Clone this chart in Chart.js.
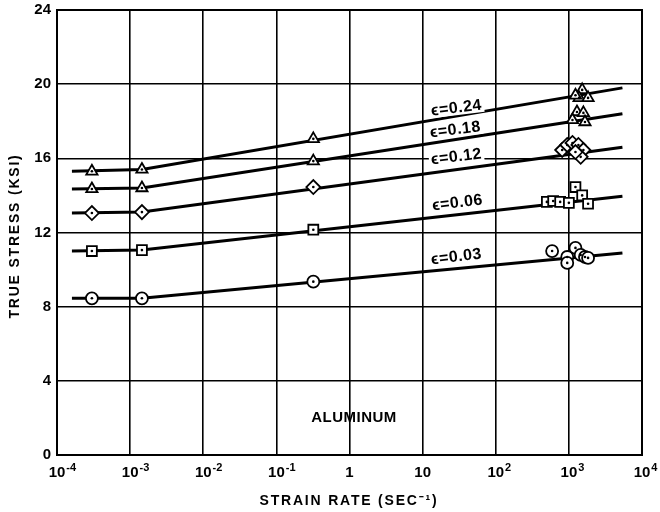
<!DOCTYPE html>
<html>
<head>
<meta charset="utf-8">
<script src="https://cdn.jsdelivr.net/npm/chart.js@4/dist/chart.umd.min.js"></script>
<style>
  html, body { margin: 0; padding: 0; background: #fff; }
  #c { display: block; }
</style>
</head>
<body>
<canvas id="c" width="660" height="512"></canvas>
<script>
// Strain rates (1/s) of the slow tests and the stresses (ksi) measured there
const lowRates = [3e-4, 1.45e-3, 0.32];
const low003 = [8.45, 8.45, 9.35];
const low006 = [11.0, 11.05, 12.15];
const low012 = [13.05, 13.1, 14.45];
const low018 = [14.35, 14.4, 15.85];
const low024 = [15.3, 15.4, 17.05];

// High-rate (bar) tests near 10^3 1/s
const high003Rates = [590, 950, 1230, 1450, 1660, 1830, 950];
const high003 = [11.0, 10.68, 11.17, 10.79, 10.68, 10.63, 10.36];
const high006Rates = [500, 610, 760, 1000, 1230, 1520, 1830];
const high006 = [13.65, 13.7, 13.65, 13.6, 14.45, 14.0, 13.55];
const high012Rates = [810, 950, 1120, 1350, 1580, 1450, 1230];
const high012 = [16.45, 16.72, 16.83, 16.72, 16.45, 16.08, 16.34];
const high018Rates = [1290, 1580, 1120, 1660];
const high018 = [18.5, 18.45, 18.07, 17.96];
const high024Rates = [1520, 1380, 1830, 1230];
const high024 = [19.69, 19.26, 19.26, 19.4];

// Fitted curves: flat through the slow tests, then straight in log(rate)
const fitRates = [1.6e-4, 1.45e-3, 5.4e3];
const fit003 = [8.45, 8.45, 10.9];
const fit006 = [11.0, 11.05, 13.95];
const fit012 = [13.05, 13.1, 16.6];
const fit018 = [14.35, 14.4, 18.4];
const fit024 = [15.3, 15.4, 19.8];

// Strain labels and where they sit (rate, stress)
const strainLabels = ['\u03F5=0.03', '\u03F5=0.06', '\u03F5=0.12', '\u03F5=0.18', '\u03F5=0.24'];
const labelRates = [29, 30, 29, 28, 29];
const labelStress = [10.68, 13.59, 16.07, 17.53, 18.7];

// Axis ticks
const xTickValues = [1e-4, 1e-3, 1e-2, 1e-1, 1, 10, 1e2, 1e3, 1e4];
const xTickBase = ['10', '10', '10', '10', '1', '10', '10', '10', '10'];
const xTickExp = ['-4', '-3', '-2', '-1', '', '', '2', '3', '4'];
const yTickValues = [0, 4, 8, 12, 16, 20, 24];

const FONT = "'Liberation Sans', Arial, sans-serif";

const pts = (xs, ys) => xs.map((x, i) => ({ x: x, y: ys[i] }));

const markerSet = (xs, ys, style, radius) => ({
  data: pts(xs, ys),
  showLine: false,
  pointStyle: style,
  pointRadius: radius,
  pointBackgroundColor: '#fff',
  pointBorderColor: '#000',
  pointBorderWidth: 1.8,
  dotted: true,
  order: 0
});

const fitSet = (ys) => ({
  data: pts(fitRates, ys),
  showLine: true,
  borderColor: '#000',
  borderWidth: 3,
  pointRadius: 0,
  fill: false,
  order: 1
});

const datasets = [
  fitSet(fit003), fitSet(fit006), fitSet(fit012), fitSet(fit018), fitSet(fit024),
  markerSet(lowRates, low003, 'circle', 6),
  markerSet(high003Rates, high003, 'circle', 6),
  markerSet(lowRates, low006, 'rect', 7),
  markerSet(high006Rates, high006, 'rect', 7),
  markerSet(lowRates, low012, 'rectRot', 7),
  markerSet(high012Rates, high012, 'rectRot', 7),
  markerSet(lowRates, low018, 'triangle', 6.5),
  markerSet(high018Rates, high018, 'triangle', 6.5),
  markerSet(lowRates, low024, 'triangle', 6.5),
  markerSet(high024Rates, high024, 'triangle', 6.5)
];

// Centre dots in the open markers, frame, strain labels, x tick labels, titles
const decorations = {
  id: 'decorations',
  afterDatasetsDraw(chart) {
    const ctx = chart.ctx;
    ctx.save();
    ctx.fillStyle = '#000';
    chart.data.datasets.forEach((ds, i) => {
      if (!ds.dotted) return;
      chart.getDatasetMeta(i).data.forEach(p => {
        ctx.beginPath();
        ctx.arc(p.x, p.y, 1.3, 0, Math.PI * 2);
        ctx.fill();
      });
    });
    ctx.restore();
  },
  afterDraw(chart) {
    const ctx = chart.ctx;
    const a = chart.chartArea;
    const xs = chart.scales.x;
    const ys = chart.scales.y;
    ctx.save();

    // plot frame
    ctx.strokeStyle = '#000';
    ctx.lineWidth = 2;
    ctx.strokeRect(a.left, a.top, a.right - a.left, a.bottom - a.top);

    // strain labels along the curves
    ctx.font = 'bold 16px ' + FONT;
    ctx.letterSpacing = '0.5px';
    ctx.textAlign = 'center';
    ctx.textBaseline = 'middle';
    strainLabels.forEach((t, i) => {
      const px = xs.getPixelForValue(labelRates[i]);
      const py = ys.getPixelForValue(labelStress[i]);
      ctx.save();
      ctx.translate(px, py);
      ctx.rotate(-7 * Math.PI / 180);
      const w = ctx.measureText(t).width;
      ctx.fillStyle = '#fff';
      ctx.fillRect(-w / 2 - 2, -8, w + 4, 15);
      ctx.fillStyle = '#000';
      ctx.fillText(t, 0, 0);
      ctx.restore();
    });

    // material name
    ctx.letterSpacing = '0.5px';
    ctx.font = 'bold 15px ' + FONT;
    ctx.fillStyle = '#000';
    ctx.textAlign = 'center';
    ctx.fillText('ALUMINUM', 354, 418);

    // x tick labels: powers of ten with raised exponents
    ctx.letterSpacing = '0px';
    xTickValues.forEach((v, i) => {
      const px = xs.getPixelForValue(v);
      ctx.font = 'bold 15px ' + FONT;
      ctx.textAlign = 'center';
      ctx.textBaseline = 'middle';
      const w = ctx.measureText(xTickBase[i]).width;
      ctx.fillText(xTickBase[i], px, a.bottom + 18);
      if (xTickExp[i]) {
        ctx.font = 'bold 11px ' + FONT;
        ctx.textAlign = 'left';
        ctx.fillText(xTickExp[i], px + w / 2 + 1, a.bottom + 13);
      }
    });

    // axis titles
    ctx.font = 'bold 14px ' + FONT;
    ctx.letterSpacing = '1.8px';
    ctx.textAlign = 'center';
    ctx.textBaseline = 'middle';
    ctx.fillText('STRAIN RATE (SEC\u207B\u00B9)', 349, 501);
    ctx.save();
    ctx.translate(15, 236);
    ctx.rotate(-Math.PI / 2);
    ctx.fillText('TRUE STRESS (KSI)', 0, 0);
    ctx.restore();

    ctx.restore();
  }
};

new Chart(document.getElementById('c'), {
  type: 'scatter',
  data: { datasets: datasets },
  options: {
    responsive: false,
    animation: false,
    devicePixelRatio: 1,
    layout: { padding: { top: 10, right: 18, left: 0, bottom: 0 } },
    plugins: { legend: { display: false }, tooltip: { enabled: false } },
    scales: {
      x: {
        type: 'logarithmic',
        min: 1e-4,
        max: 1e4,
        afterBuildTicks: s => { s.ticks = xTickValues.map(v => ({ value: v })); },
        afterFit: s => { s.height = 57; s.paddingLeft = 0; s.paddingRight = 0; },
        ticks: { display: false },
        grid: { color: '#000', lineWidth: 1.6, drawTicks: false },
        border: { display: true, color: '#000', width: 2 }
      },
      y: {
        min: 0,
        max: 24,
        afterBuildTicks: s => { s.ticks = yTickValues.map(v => ({ value: v })); },
        afterFit: s => { s.width = 57; s.paddingTop = 0; s.paddingBottom = 0; },
        ticks: {
          color: '#000',
          padding: 6,
          font: { family: FONT, size: 15, weight: 'bold' }
        },
        grid: { color: '#000', lineWidth: 1.6, drawTicks: false },
        border: { display: true, color: '#000', width: 2 }
      }
    }
  },
  plugins: [decorations]
});
</script>
</body>
</html>
